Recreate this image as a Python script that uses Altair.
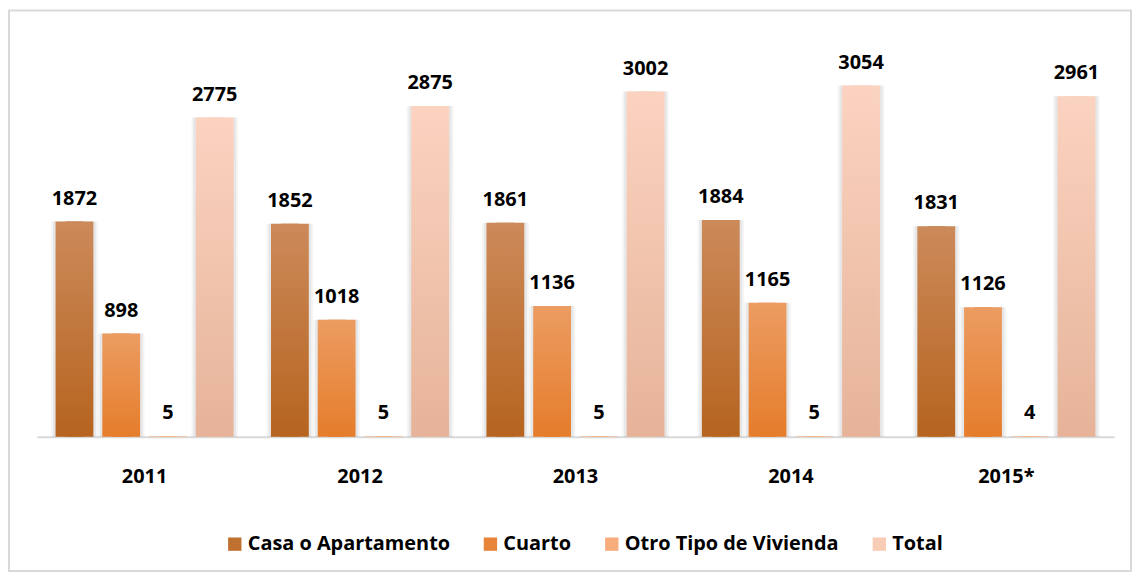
import altair as alt
import pandas as pd

years = ["2011", "2012", "2013", "2014", "2015*"]
series = ["Casa o Apartamento", "Cuarto", "Otro Tipo de Vivienda", "Total"]
casa = [1872, 1852, 1861, 1884, 1831]
cuarto = [898, 1018, 1136, 1165, 1126]
otro = [5, 5, 5, 5, 4]
total = [2775, 2875, 3002, 3054, 2961]

legend_colors = ["#C0702F", "#E8843A", "#F7AC7E", "#F9CCB6"]
gradient_stops = {
    "Casa o Apartamento": ("#CC8A5A", "#B6641F"),
    "Cuarto": ("#EC9C62", "#E57D2B"),
    "Otro Tipo de Vivienda": ("#F9B890", "#F2A070"),
    "Total": ("#FBD3C0", "#E6B399"),
}

rows = []
for s, vals in zip(series, [casa, cuarto, otro, total]):
    for yr, v in zip(years, vals):
        rows.append({"year": yr, "series": s, "value": v})
df = pd.DataFrame(rows)

FONT = "Open Sans"
W, H = 1083, 400

x_enc = alt.X(
    "year:N", sort=years,
    scale=alt.Scale(domain=years, paddingInner=0, paddingOuter=0),
    axis=alt.Axis(title=None, labelAngle=0, ticks=False, tickSize=0,
                  labelPadding=46, labelBaseline="alphabetic",
                  labelFont=FONT, labelFontSize=20, labelFontWeight="bold",
                  labelColor="#000000", domainColor="#D9D9D9", domainWidth=2,
                  grid=False),
)
xo_enc = alt.XOffset("series:N", sort=series,
                     scale=alt.Scale(domain=series, paddingInner=0.191, paddingOuter=0.4))
y_enc = alt.Y("value:Q", scale=alt.Scale(domain=[0, 3460]), axis=None)

base = alt.Chart(df)
shadow_base = base.transform_filter(alt.datum.value > 50)

shadow1 = shadow_base.mark_bar(width=47, color="#000000", opacity=0.04).encode(x=x_enc, xOffset=xo_enc, y=y_enc)
shadow2 = shadow_base.mark_bar(width=43, color="#000000", opacity=0.06).encode(x=x_enc, xOffset=xo_enc, y=y_enc)

legend_layer = base.mark_bar(width=0, strokeWidth=0).encode(
    x=x_enc, xOffset=xo_enc, y=y_enc,
    color=alt.Color("series:N", sort=series,
                    scale=alt.Scale(domain=series, range=legend_colors),
                    legend=alt.Legend(orient="none", legendX=189, legendY=498,
                                      direction="horizontal", title=None,
                                      symbolType="square", symbolSize=180,
                                      symbolStrokeWidth=0, symbolOpacity=1,
                                      labelFont=FONT, labelFontSize=20,
                                      labelFontWeight="bold", labelColor="#000000",
                                      labelLimit=0,
                                      columnPadding=30, labelOffset=3, padding=0)),
)

bar_layers = []
for s in series:
    top, bottom = gradient_stops[s]
    grad = alt.LinearGradient(
        gradient="linear",
        stops=[alt.GradientStop(color=top, offset=0), alt.GradientStop(color=bottom, offset=1)],
        x1=0, x2=0, y1=0, y2=1,
    )
    bar_layers.append(
        base.transform_filter(alt.datum.series == s)
        .mark_bar(fill=grad, strokeWidth=0)
        .encode(x=x_enc, xOffset=xo_enc, y=y_enc)
    )

labels = base.mark_text(dy=-17, baseline="alphabetic", font=FONT, fontSize=20,
                        fontWeight="bold", color="#000000").encode(
    x=x_enc, xOffset=xo_enc, y=y_enc, text=alt.Text("value:Q", format="d"))

frame = alt.Chart(pd.DataFrame({"k": [0]})).mark_rect(
    fill="transparent", stroke="#D9D9D9", strokeWidth=2
).encode(x=alt.value(-28), x2=alt.value(1100), y=alt.value(-28.5), y2=alt.value(535))

chart = alt.layer(frame, shadow1, shadow2, legend_layer, *bar_layers, labels).properties(
    width=W, height=H,
    autosize=alt.AutoSizeParams(type="none"),
    padding={"left": 29, "top": 29.5, "right": 18, "bottom": 136.5},
    background="#FFFFFF",
).configure_view(stroke=None)

chart.save("out.html", embed_options={"renderer": "svg", "actions": False})
